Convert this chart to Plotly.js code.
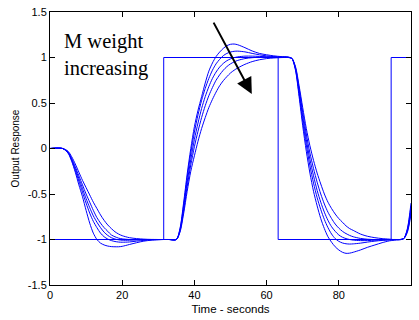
<!DOCTYPE html>
<html>
<head>
<meta charset="utf-8">
<script src="https://cdn.plot.ly/plotly-3.0.1.min.js"></script>
<style>html,body{margin:0;padding:0;background:#fff;}#chart{width:419px;height:320px;}</style>
</head>
<body>
<div id="chart"></div>
<script>
// Reference square wave (input)
const refTime = [0, 31.5, 31.5, 63.2, 63.2, 94.5, 94.5, 100];
const refValue = [-1, -1, 1, 1, -1, -1, 1, 1];

// Sample times for the output responses
const time = [0, 3.5, 5, 6, 7, 8, 9, 10, 11, 12, 13, 14, 15, 16, 17, 18, 19, 20, 22, 24, 26, 28, 30, 31.5,
  33, 35, 36, 37, 38, 39, 40, 41, 42, 43, 44, 45, 46, 47, 48, 49, 50, 51, 52, 54, 56, 58, 60, 62, 64,
  66, 67, 68, 69, 70, 71, 72, 73, 74, 75, 76, 77, 78, 79, 80, 81, 82, 83, 84, 86, 88, 90, 92, 94, 95,
  96, 97, 98, 99, 100];

// Output responses, one per M weight (smallest weight first)
const respA = [0, 0, -0.05, -0.14, -0.26, -0.4, -0.53, -0.68, -0.82, -0.93, -1.0, -1.04, -1.06, -1.072, -1.078, -1.08, -1.08, -1.075, -1.055, -1.035, -1.018, -1.008, -1.003, -1.0,
  -1.0, -1.0, -0.88, -0.6, -0.28, 0.0, 0.24, 0.42, 0.57, 0.72, 0.85, 0.94, 1.01, 1.06, 1.1, 1.13, 1.145, 1.148, 1.14, 1.108, 1.072, 1.045, 1.03, 1.018, 1.01,
  1.005, 0.99, 0.86, 0.57, 0.25, -0.03, -0.27, -0.47, -0.63, -0.77, -0.88, -0.97, -1.03, -1.08, -1.115, -1.14, -1.152, -1.15, -1.14, -1.115, -1.085, -1.06, -1.035, -1.015, -1.01,
  -1.005, -1.003, -0.99, -0.88, -0.6];
const respB = [0, 0, -0.05, -0.13, -0.24, -0.36, -0.48, -0.6, -0.71, -0.8, -0.87, -0.93, -0.97, -0.995, -1.012, -1.022, -1.028, -1.03, -1.027, -1.018, -1.01, -1.004, -1.001, -1.0,
  -1.0, -1.0, -0.89, -0.63, -0.32, -0.05, 0.18, 0.37, 0.53, 0.66, 0.77, 0.86, 0.93, 0.98, 1.02, 1.045, 1.06, 1.068, 1.07, 1.062, 1.045, 1.03, 1.018, 1.01, 1.005,
  1.003, 0.99, 0.87, 0.6, 0.3, 0.04, -0.19, -0.38, -0.54, -0.67, -0.78, -0.87, -0.94, -0.99, -1.02, -1.038, -1.047, -1.05, -1.048, -1.04, -1.028, -1.018, -1.01, -1.005, -1.003,
  -1.002, -1.0, -0.99, -0.89, -0.63];
const respC = [0, 0, -0.04, -0.12, -0.22, -0.33, -0.44, -0.55, -0.65, -0.74, -0.81, -0.87, -0.92, -0.955, -0.98, -0.995, -1.003, -1.008, -1.008, -1.004, -1.002, -1.0, -1.0, -1.0,
  -1.0, -1.0, -0.9, -0.66, -0.37, -0.12, 0.1, 0.28, 0.44, 0.57, 0.68, 0.77, 0.84, 0.895, 0.935, 0.965, 0.985, 0.998, 1.007, 1.015, 1.015, 1.012, 1.008, 1.005, 1.003,
  1.002, 0.99, 0.88, 0.63, 0.35, 0.1, -0.12, -0.3, -0.46, -0.59, -0.7, -0.79, -0.86, -0.91, -0.95, -0.975, -0.99, -1.0, -1.007, -1.012, -1.012, -1.008, -1.005, -1.002, -1.0,
  -1.0, -1.0, -0.99, -0.9, -0.66];
const respD = [0, 0, -0.04, -0.11, -0.2, -0.3, -0.4, -0.5, -0.59, -0.68, -0.76, -0.82, -0.87, -0.91, -0.95, -0.97, -0.985, -0.993, -1.0, -1.002, -1.001, -1.0, -1.0, -1.0,
  -1.0, -1.0, -0.91, -0.69, -0.42, -0.18, 0.02, 0.19, 0.34, 0.47, 0.58, 0.67, 0.75, 0.81, 0.86, 0.9, 0.93, 0.952, 0.968, 0.988, 0.998, 1.003, 1.004, 1.003, 1.002,
  1.0, 0.99, 0.89, 0.66, 0.4, 0.16, -0.05, -0.22, -0.37, -0.5, -0.61, -0.7, -0.77, -0.83, -0.875, -0.91, -0.935, -0.955, -0.97, -0.988, -0.997, -1.001, -1.002, -1.001, -1.0,
  -1.0, -1.0, -0.99, -0.91, -0.69];
const respE = [0, 0, -0.03, -0.09, -0.17, -0.26, -0.35, -0.43, -0.51, -0.59, -0.66, -0.73, -0.79, -0.84, -0.88, -0.915, -0.94, -0.958, -0.98, -0.99, -0.996, -0.999, -1.0, -1.0,
  -1.0, -1.0, -0.92, -0.72, -0.47, -0.25, -0.08, 0.08, 0.22, 0.34, 0.45, 0.54, 0.62, 0.69, 0.745, 0.79, 0.83, 0.86, 0.885, 0.925, 0.955, 0.975, 0.988, 0.995, 0.999,
  1.0, 0.99, 0.9, 0.69, 0.45, 0.22, 0.03, -0.13, -0.27, -0.39, -0.5, -0.59, -0.66, -0.72, -0.77, -0.81, -0.85, -0.88, -0.9, -0.94, -0.965, -0.98, -0.99, -0.996, -1.0,
  -1.0, -1.0, -0.99, -0.92, -0.72];

const xTicks = [0, 20, 40, 60, 80, 100];
const yTicks = [-1.5, -1, -0.5, 0, 0.5, 1, 1.5];
const labelText = 'M weight<br>increasing';
const xTitle = 'Time - seconds';
const yTitle = 'Output Response';

const blue = '#0000ff';
const traces = [
  {x: refTime, y: refValue, mode: 'lines', line: {color: blue, width: 1}, hoverinfo: 'skip'}
];
[respA, respB, respC, respD, respE].forEach(r => {
  traces.push({x: time, y: r, mode: 'lines', line: {color: blue, width: 1, shape: 'spline', smoothing: 0.8}, hoverinfo: 'skip'});
});

const axisFont = {family: 'Liberation Sans, Arial, sans-serif', size: 11, color: '#000'};
const layout = {
  width: 419, height: 320,
  margin: {l: 50, r: 8, t: 12, b: 35},
  paper_bgcolor: '#fff', plot_bgcolor: '#fff',
  showlegend: false,
  font: axisFont,
  xaxis: {
    range: [0, 100], tickvals: xTicks, ticktext: xTicks.map(String),
    ticks: 'inside', ticklen: 5, tickcolor: '#000', mirror: 'allticks',
    showline: true, linecolor: '#000', linewidth: 1, showgrid: false, zeroline: false,
    tickfont: axisFont,
    title: {text: xTitle, font: {family: 'Liberation Sans, Arial, sans-serif', size: 11.5, color: '#000'}, standoff: 4}
  },
  yaxis: {
    range: [-1.5, 1.5], tickvals: yTicks, ticktext: yTicks.map(String),
    ticks: 'inside', ticklen: 5, tickcolor: '#000', mirror: 'allticks',
    showline: true, linecolor: '#000', linewidth: 1, showgrid: false, zeroline: false,
    tickfont: axisFont,
    title: {text: yTitle, font: {family: 'Liberation Sans, Arial, sans-serif', size: 10, color: '#000'}, standoff: 6}
  },
  annotations: [
    {x: 3.4, y: 1.32, xref: 'x', yref: 'y', text: labelText, showarrow: false,
     xanchor: 'left', yanchor: 'top', align: 'left',
     font: {family: 'Liberation Serif, Times New Roman, serif', size: 20.5, color: '#000'}},
    {x: 55.9, y: 0.6, ax: 45.1, ay: 1.40, xref: 'x', yref: 'y', axref: 'x', ayref: 'y',
     text: '', showarrow: true, arrowhead: 2, arrowsize: 1.6, arrowwidth: 2, arrowcolor: '#000'}
  ]
};

Plotly.newPlot('chart', traces, layout, {staticPlot: true, displayModeBar: false});
</script>
</body>
</html>
